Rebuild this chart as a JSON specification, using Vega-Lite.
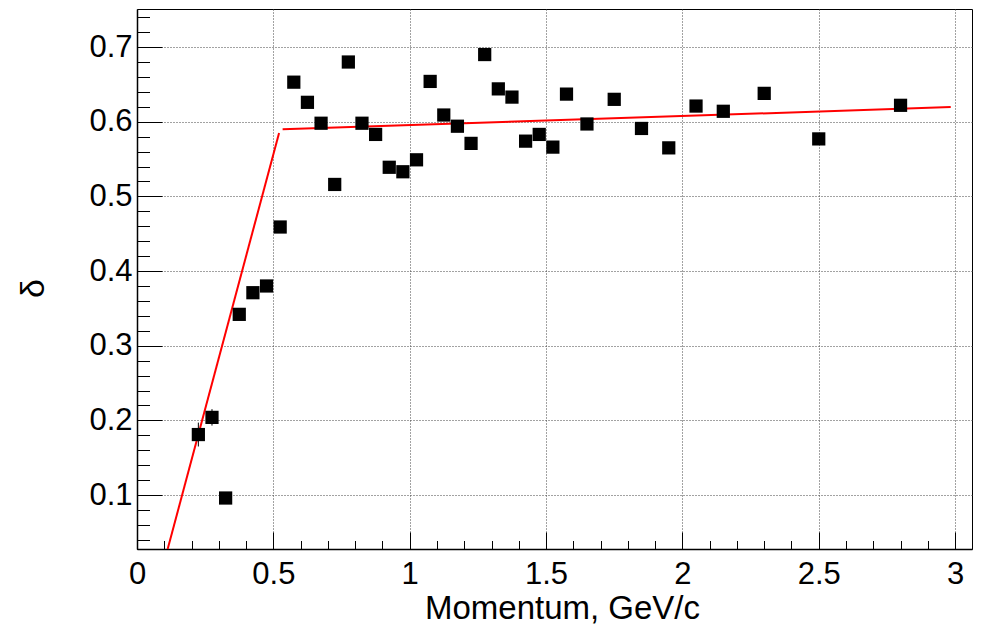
{
  "$schema": "https://vega.github.io/schema/vega-lite/v6.json",
  "width": 835,
  "height": 540,
  "autosize": {"type": "none"},
  "padding": {"left": 137, "top": 9, "right": 16, "bottom": 78},
  "background": "white",
  "config": {
    "font": "Liberation Sans",
    "view": {"stroke": "black", "strokeWidth": 1}
  },
  "datasets": {
    "pts": [
      {"p": 0.225, "d": 0.181, "lo": 0.165, "hi": 0.197},
      {"p": 0.275, "d": 0.204, "lo": 0.193, "hi": 0.215},
      {"p": 0.325, "d": 0.096},
      {"p": 0.375, "d": 0.342},
      {"p": 0.425, "d": 0.371},
      {"p": 0.475, "d": 0.380},
      {"p": 0.525, "d": 0.459},
      {"p": 0.575, "d": 0.653},
      {"p": 0.625, "d": 0.626},
      {"p": 0.675, "d": 0.598},
      {"p": 0.725, "d": 0.516},
      {"p": 0.775, "d": 0.680},
      {"p": 0.825, "d": 0.598},
      {"p": 0.875, "d": 0.583},
      {"p": 0.925, "d": 0.539},
      {"p": 0.975, "d": 0.533},
      {"p": 1.025, "d": 0.549},
      {"p": 1.075, "d": 0.654},
      {"p": 1.125, "d": 0.609},
      {"p": 1.175, "d": 0.594},
      {"p": 1.225, "d": 0.571},
      {"p": 1.275, "d": 0.690},
      {"p": 1.325, "d": 0.644},
      {"p": 1.375, "d": 0.633},
      {"p": 1.425, "d": 0.574},
      {"p": 1.475, "d": 0.583},
      {"p": 1.525, "d": 0.566},
      {"p": 1.575, "d": 0.637},
      {"p": 1.65, "d": 0.597},
      {"p": 1.75, "d": 0.630},
      {"p": 1.85, "d": 0.591},
      {"p": 1.95, "d": 0.565},
      {"p": 2.05, "d": 0.621},
      {"p": 2.15, "d": 0.614},
      {"p": 2.30, "d": 0.638},
      {"p": 2.50, "d": 0.577},
      {"p": 2.80, "d": 0.622}
    ],
    "fit": [
      {"seg": "a", "p": 0.1125, "d": 0.0277},
      {"seg": "a", "p": 0.521, "d": 0.585},
      {"seg": "b", "p": 0.534, "d": 0.5898},
      {"seg": "b", "p": 2.984, "d": 0.6196}
    ]
  },
  "encoding": {
    "x": {
      "field": "p", "type": "quantitative",
      "scale": {"domain": [0, 3.062], "nice": false, "zero": false},
      "axis": {
        "title": "Momentum, GeV/c",
        "values": [0,0.1,0.2,0.3,0.4,0.5,0.6,0.7,0.8,0.9,1,1.1,1.2,1.3,1.4,1.5,1.6,1.7,1.8,1.9,2,2.1,2.2,2.3,2.4,2.5,2.6,2.7,2.8,2.9,3],
        "labelExpr": "abs(datum.value*2 - round(datum.value*2)) < 0.001 ? format(datum.value, '.1~f') : ''",
        "labelFontSize": 31,
        "labelColor": "black",
        "labelPadding": 27,
        "labelBaseline": "top",
        "labelFlush": false,
        "labelOverlap": false,
        "tickSize": {"condition": {"test": "abs(datum.value*2 - round(datum.value*2)) < 0.001", "value": -17}, "value": -8.5},
        "tickColor": "black",
        "tickWidth": 1,
        "domainColor": "black",
        "domainWidth": 1.5,
        "grid": true,
        "gridColor": "#444444",
        "gridDash": [1, 2],
        "gridWidth": 1,
        "gridOpacity": {"condition": {"test": "abs(datum.value*2 - round(datum.value*2)) < 0.001", "value": 1}, "value": 0},
        "titleFontSize": 33,
        "titleFontWeight": "normal",
        "titleColor": "black",
        "titleBaseline": "alphabetic",
        "titleAnchor": "middle",
        "titleX": 425,
        "titleY": 69
      }
    },
    "y": {
      "field": "d", "type": "quantitative",
      "scale": {"domain": [0.0277, 0.751], "nice": false, "zero": false},
      "axis": {
        "title": "δ",
        "values": [0.04,0.06,0.08,0.1,0.12,0.14,0.16,0.18,0.2,0.22,0.24,0.26,0.28,0.3,0.32,0.34,0.36,0.38,0.4,0.42,0.44,0.46,0.48,0.5,0.52,0.54,0.56,0.58,0.6,0.62,0.64,0.66,0.68,0.7,0.72,0.74],
        "labelExpr": "abs(datum.value*10 - round(datum.value*10)) < 0.001 ? format(datum.value, '.1f') : ''",
        "labelFontSize": 31,
        "labelColor": "black",
        "labelPadding": 30,
        "labelFlush": false,
        "labelOverlap": false,
        "tickSize": {"condition": {"test": "abs(datum.value*10 - round(datum.value*10)) < 0.001", "value": -25}, "value": -12.5},
        "tickColor": "black",
        "tickWidth": 1,
        "domainColor": "black",
        "domainWidth": 1.5,
        "grid": true,
        "gridColor": "#444444",
        "gridDash": [1, 2],
        "gridWidth": 1,
        "gridOpacity": {"condition": {"test": "abs(datum.value*10 - round(datum.value*10)) < 0.001", "value": 1}, "value": 0},
        "titleFontSize": 34,
        "titleFontWeight": "normal",
        "titleColor": "black",
        "titleAngle": -90,
        "titleBaseline": "alphabetic",
        "titleX": -94,
        "titleY": 279
      }
    }
  },
  "layer": [
    {
      "data": {"name": "fit"},
      "mark": {"type": "line", "color": "#ff0000", "strokeWidth": 2},
      "encoding": {
        "detail": {"field": "seg"}
      }
    },
    {
      "data": {"name": "pts"},
      "transform": [{"filter": "isValid(datum.lo)"}],
      "mark": {"type": "rule", "color": "black", "strokeWidth": 1},
      "encoding": {
        "y": {"field": "lo", "type": "quantitative", "title": "δ"},
        "y2": {"field": "hi"}
      }
    },
    {
      "data": {"name": "pts"},
      "mark": {"type": "point", "shape": "square", "filled": true, "color": "black", "opacity": 1, "size": 175, "strokeWidth": 0}
    }
  ]
}
